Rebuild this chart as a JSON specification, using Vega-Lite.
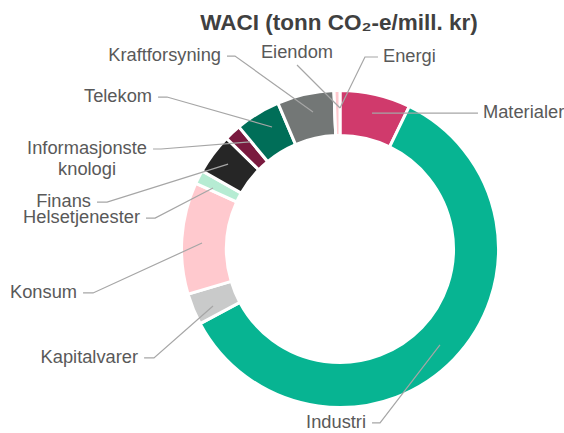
{
  "$schema": "https://vega.github.io/schema/vega-lite/v6.json",
  "width": 564,
  "height": 433,
  "autosize": {"type": "none"},
  "padding": 0,
  "background": "white",
  "view": {"stroke": null},
  "title": {
    "text": "WACI (tonn CO₂-e/mill. kr)",
    "font": "Liberation Sans",
    "fontSize": 22.5,
    "fontWeight": "bold",
    "color": "#404040",
    "anchor": "middle",
    "dx": 57,
    "offset": -52,
    "baseline": "alphabetic"
  },
  "config": {
    "text": {"font": "Liberation Sans", "fontSize": 18.3, "fill": "#595959", "lineBreak": "\n"}
  },
  "datasets": {
    "sectors": [
      {"sector": "Materialer", "value": 7.2, "ord": 1},
      {"sector": "Industri", "value": 60.0, "ord": 2},
      {"sector": "Kapitalvarer", "value": 3.2, "ord": 3},
      {"sector": "Konsum", "value": 11.4, "ord": 4},
      {"sector": "Helsetjenester", "value": 1.4, "ord": 5},
      {"sector": "Finans", "value": 4.1, "ord": 6},
      {"sector": "Informasjonsteknologi", "value": 1.7, "ord": 7},
      {"sector": "Telekom", "value": 4.6, "ord": 8},
      {"sector": "Kraftforsyning", "value": 5.8, "ord": 9},
      {"sector": "Eiendom", "value": 0, "ord": 10},
      {"sector": "Energi", "value": 0.6, "ord": 11}
    ],
    "leaders": [
      {"sector": "Materialer", "step": 1, "x": 0.204, "y": 0.866},
      {"sector": "Materialer", "step": 2, "x": 0.828, "y": 0.866},
      {"sector": "Materialer", "step": 3, "x": 0.879, "y": 0.866, "label": "Materialer"},
      {"sector": "Energi", "step": 1, "x": 0.0, "y": 0.898},
      {"sector": "Energi", "step": 2, "x": 0.159, "y": 1.223},
      {"sector": "Energi", "step": 3, "x": 0.242, "y": 1.223, "label": "Energi"},
      {"sector": "Eiendom", "step": 1, "x": 0.0, "y": 0.898},
      {"sector": "Eiendom", "step": 2, "x": -0.137, "y": 1.035},
      {"sector": "Eiendom", "step": 3, "x": -0.274, "y": 1.172, "label": "Eiendom"},
      {"sector": "Kraftforsyning", "step": 1, "x": -0.172, "y": 0.873},
      {"sector": "Kraftforsyning", "step": 2, "x": -0.669, "y": 1.229},
      {"sector": "Kraftforsyning", "step": 3, "x": -0.72, "y": 1.229, "label": "Kraftforsyning"},
      {"sector": "Telekom", "step": 1, "x": -0.433, "y": 0.777},
      {"sector": "Telekom", "step": 2, "x": -1.102, "y": 0.968},
      {"sector": "Telekom", "step": 3, "x": -1.159, "y": 0.968, "label": "Telekom"},
      {"sector": "Informasjonsteknologi", "step": 1, "x": -0.573, "y": 0.682},
      {"sector": "Informasjonsteknologi", "step": 2, "x": -1.14, "y": 0.637},
      {"sector": "Informasjonsteknologi", "step": 3, "x": -1.191, "y": 0.637, "label": "Informasjonste\nknologi"},
      {"sector": "Finans", "step": 1, "x": -0.713, "y": 0.541},
      {"sector": "Finans", "step": 2, "x": -1.484, "y": 0.299},
      {"sector": "Finans", "step": 3, "x": -1.548, "y": 0.299, "label": "Finans"},
      {"sector": "Helsetjenester", "step": 1, "x": -0.809, "y": 0.389},
      {"sector": "Helsetjenester", "step": 2, "x": -1.178, "y": 0.197},
      {"sector": "Helsetjenester", "step": 3, "x": -1.236, "y": 0.197, "label": "Helsetjenester"},
      {"sector": "Konsum", "step": 1, "x": -0.879, "y": 0.038},
      {"sector": "Konsum", "step": 2, "x": -1.573, "y": -0.28},
      {"sector": "Konsum", "step": 3, "x": -1.637, "y": -0.28, "label": "Konsum"},
      {"sector": "Kapitalvarer", "step": 1, "x": -0.809, "y": -0.363},
      {"sector": "Kapitalvarer", "step": 2, "x": -1.185, "y": -0.694},
      {"sector": "Kapitalvarer", "step": 3, "x": -1.248, "y": -0.694, "label": "Kapitalvarer"},
      {"sector": "Industri", "step": 1, "x": 0.637, "y": -0.611},
      {"sector": "Industri", "step": 2, "x": 0.255, "y": -1.108},
      {"sector": "Industri", "step": 3, "x": 0.204, "y": -1.108, "label": "Industri"}
    ]
  },
  "layer": [
    {
      "data": {"name": "sectors"},
      "mark": {"type": "arc", "outerRadius": 158.5, "innerRadius": 113.5, "stroke": "white", "strokeWidth": 3},
      "encoding": {
        "x": {"datum": 0, "type": "quantitative", "scale": {"domain": [-2.166, 1.427], "nice": false, "zero": false}, "axis": null},
        "y": {"datum": 0, "type": "quantitative", "scale": {"domain": [-1.172, 1.586], "nice": false, "zero": false}, "axis": null},
        "theta": {"field": "value", "type": "quantitative", "stack": true},
        "order": {"field": "ord", "type": "quantitative"},
        "color": {
          "field": "sector",
          "type": "nominal",
          "legend": null,
          "scale": {
            "domain": ["Materialer", "Industri", "Kapitalvarer", "Konsum", "Helsetjenester", "Finans", "Informasjonsteknologi", "Telekom", "Kraftforsyning", "Eiendom", "Energi"],
            "range": ["#D03A6C", "#07B492", "#C9CACA", "#FFC9CE", "#B6ECD3", "#262626", "#7A1A3F", "#006E58", "#737776", "#A5A5A5", "#FFC9CE"]
          }
        }
      }
    },
    {
      "data": {"name": "leaders"},
      "mark": {"type": "line", "stroke": "#A6A6A6", "strokeWidth": 1.2},
      "encoding": {
        "x": {"field": "x", "type": "quantitative", "scale": {"domain": [-2.166, 1.427], "nice": false, "zero": false}, "axis": null},
        "y": {"field": "y", "type": "quantitative", "scale": {"domain": [-1.172, 1.586], "nice": false, "zero": false}, "axis": null},
        "detail": {"field": "sector", "type": "nominal"},
        "order": {"field": "step", "type": "quantitative"}
      }
    },
    {
      "data": {"name": "leaders"},
      "transform": [
        {"filter": "datum.step == 3"},
        {"filter": {"field": "sector", "oneOf": ["Kraftforsyning", "Telekom", "Finans", "Helsetjenester", "Konsum", "Kapitalvarer", "Industri"]}}
      ],
      "mark": {"type": "text", "align": "right", "baseline": "middle", "dx": -6},
      "encoding": {
        "x": {"field": "x", "type": "quantitative"},
        "y": {"field": "y", "type": "quantitative"},
        "text": {"field": "label", "type": "nominal"}
      }
    },
    {
      "data": {"name": "leaders"},
      "transform": [
        {"filter": "datum.step == 3"},
        {"filter": {"field": "sector", "oneOf": ["Energi", "Materialer"]}}
      ],
      "mark": {"type": "text", "align": "left", "baseline": "middle", "dx": 5},
      "encoding": {
        "x": {"field": "x", "type": "quantitative"},
        "y": {"field": "y", "type": "quantitative"},
        "text": {"field": "label", "type": "nominal"}
      }
    },
    {
      "data": {"name": "leaders"},
      "transform": [
        {"filter": "datum.step == 3"},
        {"filter": {"field": "sector", "equal": "Eiendom"}}
      ],
      "mark": {"type": "text", "align": "center", "baseline": "alphabetic", "dy": -7},
      "encoding": {
        "x": {"field": "x", "type": "quantitative"},
        "y": {"field": "y", "type": "quantitative"},
        "text": {"field": "label", "type": "nominal"}
      }
    },
    {
      "data": {"name": "leaders"},
      "transform": [
        {"filter": "datum.step == 3"},
        {"filter": {"field": "sector", "equal": "Informasjonsteknologi"}}
      ],
      "mark": {"type": "text", "align": "center", "baseline": "middle", "dx": -66, "lineHeight": 21},
      "encoding": {
        "x": {"field": "x", "type": "quantitative"},
        "y": {"field": "y", "type": "quantitative"},
        "text": {"field": "label", "type": "nominal"}
      }
    }
  ]
}
